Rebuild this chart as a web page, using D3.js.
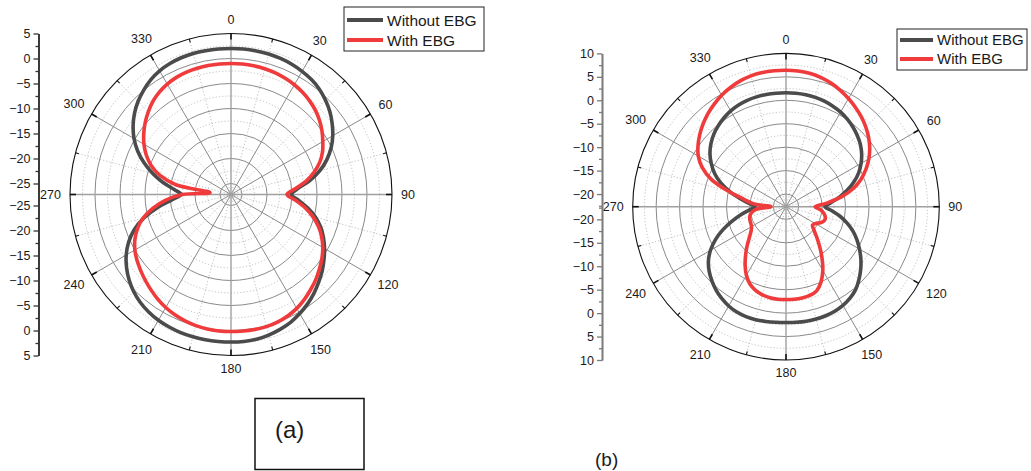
<!DOCTYPE html>
<html>
<head>
<meta charset="utf-8">
<script src="https://cdn.jsdelivr.net/npm/d3@7"></script>
<style>
  body { margin: 0; background: #fff; }
  svg { display: block; }
  text { font-family: "Liberation Sans", Arial, sans-serif; fill: #1a1a1a; }
</style>
</head>
<body>
<svg id="chart" width="1031" height="471"></svg>
<script>
// Sampling angles (degrees, clockwise from the top)
const angles = d3.range(0, 360, 5);

// (a) gain in dB at each angle
const aWithout = [
  2.0, 2.0, 1.95, 1.9, 1.75, 1.55, 1.25, 0.85, 0.3, -0.5, -1.4, -2.5,
  -3.7, -5.1, -6.8, -8.8, -11.2, -13.8, -15.1, -13.6, -11.6, -9.7, -8.1, -6.8,
  -5.6, -4.5, -3.4, -2.4, -1.4, -0.5, 0.3, 1.0, 1.5, 1.9, 2.2, 2.3,
  2.3, 2.3, 2.3, 2.25, 2.2, 2.05, 1.85, 1.5, 1.0, 0.3, -0.6, -1.7,
  -3.0, -4.6, -6.6, -9.2, -12.3, -15.4, -17.2, -15.8, -13.4, -11.0, -8.7, -6.6,
  -4.8, -3.3, -2.0, -0.9, 0.0, 0.8, 1.35, 1.7, 1.9, 2.0, 2.0, 2.0
];
const aWith = [
  -1.0, -1.0, -1.05, -1.15, -1.3, -1.55, -1.85, -2.25, -2.75, -3.35, -4.1, -5.0,
  -6.0, -7.0, -8.3, -10.0, -12.0, -14.4, -16.0, -14.3, -12.2, -10.3, -8.6, -7.2,
  -6.0, -5.0, -4.1, -3.2, -2.4, -1.6, -0.9, -0.4, -0.05, 0.15, 0.2, 0.2,
  0.2, 0.2, 0.1, -0.05, -0.3, -0.65, -1.1, -1.65, -2.3, -2.95, -3.6, -4.25,
  -5.0, -6.0, -7.3, -9.0, -11.3, -14.0, -17.5, -23.0, -16.0, -12.5, -10.2, -8.5,
  -7.1, -5.9, -4.8, -3.8, -2.9, -2.2, -1.7, -1.35, -1.15, -1.05, -1.0, -1.0
];

// (b) gain in dB at each angle
const bWithout = [
  1.6, 1.6, 1.55, 1.45, 1.25, 0.95, 0.6, 0.1, -0.5, -1.2, -2.0, -3.0,
  -4.2, -5.6, -7.3, -9.2, -11.2, -13.1, -14.4, -12.9, -11.0, -9.2, -7.5, -6.0,
  -4.6, -3.2, -1.9, -0.7, 0.4, 1.1, 1.6, 1.9, 2.05, 2.1, 2.1, 2.05,
  2.0, 2.05, 2.15, 2.25, 2.25, 2.1, 1.75, 1.2, 0.5, -0.35, -1.3, -2.5,
  -4.1, -6.1, -8.4, -10.8, -13.0, -14.9, -16.1, -14.8, -12.8, -10.3, -7.9, -5.9,
  -4.3, -2.9, -1.8, -0.9, -0.2, 0.4, 0.9, 1.25, 1.45, 1.55, 1.6, 1.6
];
const bWith = [
  6.4, 6.35, 6.2, 5.85, 5.35, 4.7, 3.95, 3.15, 2.3, 1.35, 0.3, -0.9,
  -2.3, -3.9, -5.7, -7.9, -10.7, -14.0, -16.5, -15.3, -14.5, -14.0, -14.0, -14.6,
  -15.5, -15.8, -14.9, -13.4, -11.5, -9.3, -7.0, -5.0, -3.6, -3.1, -2.95, -2.9,
  -2.9, -2.9, -3.0, -3.25, -3.7, -4.5, -5.8, -7.5, -9.3, -11.0, -12.5, -13.6,
  -14.2, -14.4, -14.5, -14.7, -15.2, -16.3, -19.5, -15.8, -13.6, -10.0, -5.8, -3.0,
  -1.1, 0.2, 1.3, 2.3, 3.2, 4.0, 4.75, 5.35, 5.85, 6.2, 6.35, 6.4
];

const seriesNames = ["Without EBG", "With EBG"];
const seriesColors = ["#4b4b4b", "#ef3b3b"];

// Axis tick labels
const angleTicks = [0, 30, 60, 90, 120, 150, 180, 210, 240, 270, 300, 330];
const aRadialTicks = [5, 0, -5, -10, -15, -20, -25];
const bRadialTicks = [10, 5, 0, -5, -10, -15, -20];

const svg = d3.select("#chart");
const toRad = d3.scaleLinear().domain([0, 360]).range([0, 2 * Math.PI]);

function polarChart(cfg) {
  const { cx, cy, R, domain, ticks, series, axisX, axisColor, legend } = cfg;
  const r = d3.scaleLinear().domain(domain).range([0, R]);
  const g = svg.append("g").attr("transform", `translate(${cx},${cy})`);

  // minor values sit halfway between major ticks
  const minor = ticks.map(v => v - 2.5).filter(v => v > domain[0]);

  // concentric grid
  g.selectAll("circle.minor").data(minor).join("circle")
    .attr("r", d => r(d)).attr("fill", "none")
    .attr("stroke", "#b9b9b9").attr("stroke-width", 0.9).attr("stroke-dasharray", "1.2,2");
  g.selectAll("circle.major").data(ticks.filter(v => v < domain[1])).join("circle")
    .attr("r", d => r(d)).attr("fill", "none")
    .attr("stroke", "#8a8a8a").attr("stroke-width", 1);

  // spokes: solid every 30 degrees, dotted halfway between
  const spokes = d3.range(0, 360, 15);
  g.selectAll("line.spoke").data(spokes).join("line")
    .attr("x1", 0).attr("y1", 0)
    .attr("x2", d => R * Math.sin(toRad(d)))
    .attr("y2", d => -R * Math.cos(toRad(d)))
    .attr("stroke", d => d % 30 === 0 ? (d % 90 === 0 ? "#a0a0a0" : "#8a8a8a") : "#b9b9b9")
    .attr("stroke-width", d => d % 30 === 0 ? (d % 90 === 0 ? 1.4 : 1) : 0.9)
    .attr("stroke-dasharray", d => d % 30 === 0 ? null : "1.2,2");

  // outer ring with inward ticks
  g.append("circle").attr("r", R).attr("fill", "none").attr("stroke", "#111").attr("stroke-width", 1.1);
  g.selectAll("line.atick").data(spokes).join("line")
    .attr("x1", d => R * Math.sin(toRad(d)))
    .attr("y1", d => -R * Math.cos(toRad(d)))
    .attr("x2", d => (R - (d % 30 === 0 ? 6 : 3.5)) * Math.sin(toRad(d)))
    .attr("y2", d => -(R - (d % 30 === 0 ? 6 : 3.5)) * Math.cos(toRad(d)))
    .attr("stroke", "#111").attr("stroke-width", d => d % 30 === 0 ? 1.6 : 1.1);

  // angle labels
  const labelPos = d => {
    const hw = String(d).length * 3.5, t = toRad(d);
    const dist = R + 9 + Math.abs(Math.sin(t)) * hw + Math.abs(Math.cos(t)) * 4.5;
    return [dist * Math.sin(t), -dist * Math.cos(t)];
  };
  g.selectAll("text.alab").data(angleTicks).join("text")
    .attr("font-size", 12.5)
    .attr("text-anchor", "middle")
    .attr("dominant-baseline", "central")
    .attr("x", d => labelPos(d)[0])
    .attr("y", d => labelPos(d)[1])
    .text(d => d);

  // pattern curves
  const line = d3.lineRadial()
    .angle(d => toRad(d[0]))
    .radius(d => r(d[1]))
    .curve(d3.curveCatmullRomClosed.alpha(0.5));
  series.forEach((vals, i) => {
    g.append("path")
      .datum(angles.map((a, k) => [a, vals[k]]))
      .attr("d", line)
      .attr("fill", "none")
      .attr("stroke", seriesColors[i])
      .attr("stroke-width", 3.6)
      .attr("stroke-linejoin", "round");
  });

  // radial value axis drawn on the left, mirrored above and below the centre
  const yUp = d3.scaleLinear().domain(domain).range([cy, cy - R]);
  const yDown = d3.scaleLinear().domain(domain).range([cy, cy + R]);
  [yUp, yDown].forEach(y => {
    const ax = svg.append("g").attr("transform", `translate(${axisX},0)`);
    ax.call(d3.axisLeft(y).tickValues(ticks).tickSize(5).tickSizeOuter(0).tickPadding(3).tickFormat(d3.format("d")));
    ax.append("g").call(d3.axisLeft(y).tickValues(minor).tickSize(3).tickSizeOuter(0).tickFormat(""));
    ax.selectAll("path").attr("stroke", axisColor).attr("stroke-width", 1.6);
    ax.selectAll("line").attr("stroke", axisColor).attr("stroke-width", 1.3);
    ax.selectAll("text").attr("font-size", 12.5).attr("fill", "#1a1a1a")
      .style("font-family", "'Liberation Sans', Arial, sans-serif");
  });

  // legend
  const lg = svg.append("g").attr("transform", `translate(${legend.x},${legend.y})`);
  lg.append("rect").attr("width", legend.w).attr("height", legend.h)
    .attr("fill", "#fff").attr("stroke", "#222").attr("stroke-width", 1);
  seriesNames.forEach((name, i) => {
    const yy = legend.rowY[i];
    lg.append("line").attr("x1", 3).attr("x2", legend.lineW + 3).attr("y1", yy).attr("y2", yy)
      .attr("stroke", seriesColors[i]).attr("stroke-width", 4);
    lg.append("text").attr("x", legend.lineW + 7).attr("y", yy).attr("dy", "0.36em")
      .attr("font-size", legend.fs).text(name);
  });
}

polarChart({
  cx: 231, cy: 194.5, R: 161, domain: [-27.2, 5], ticks: aRadialTicks,
  series: [aWithout, aWith], axisX: 38.5, axisColor: "#333",
  legend: { x: 344, y: 7, w: 140, h: 44, rowY: [13, 33], lineW: 36, fs: 15.5 }
});
polarChart({
  cx: 786, cy: 206.7, R: 153.3, domain: [-22.7, 10], ticks: bRadialTicks,
  series: [bWithout, bWith], axisX: 602, axisColor: "#7a7a7a",
  legend: { x: 897, y: 29, w: 130, h: 41, rowY: [11, 30], lineW: 33, fs: 15 }
});

// panel captions
svg.append("rect").attr("x", 255).attr("y", 398.5).attr("width", 109).attr("height", 71)
  .attr("fill", "none").attr("stroke", "#111").attr("stroke-width", 1.5);
svg.append("text").attr("x", 275).attr("y", 438).attr("font-size", 24).text("(a)");
svg.append("text").attr("x", 595).attr("y", 466).attr("font-size", 19).text("(b)");
</script>
</body>
</html>
